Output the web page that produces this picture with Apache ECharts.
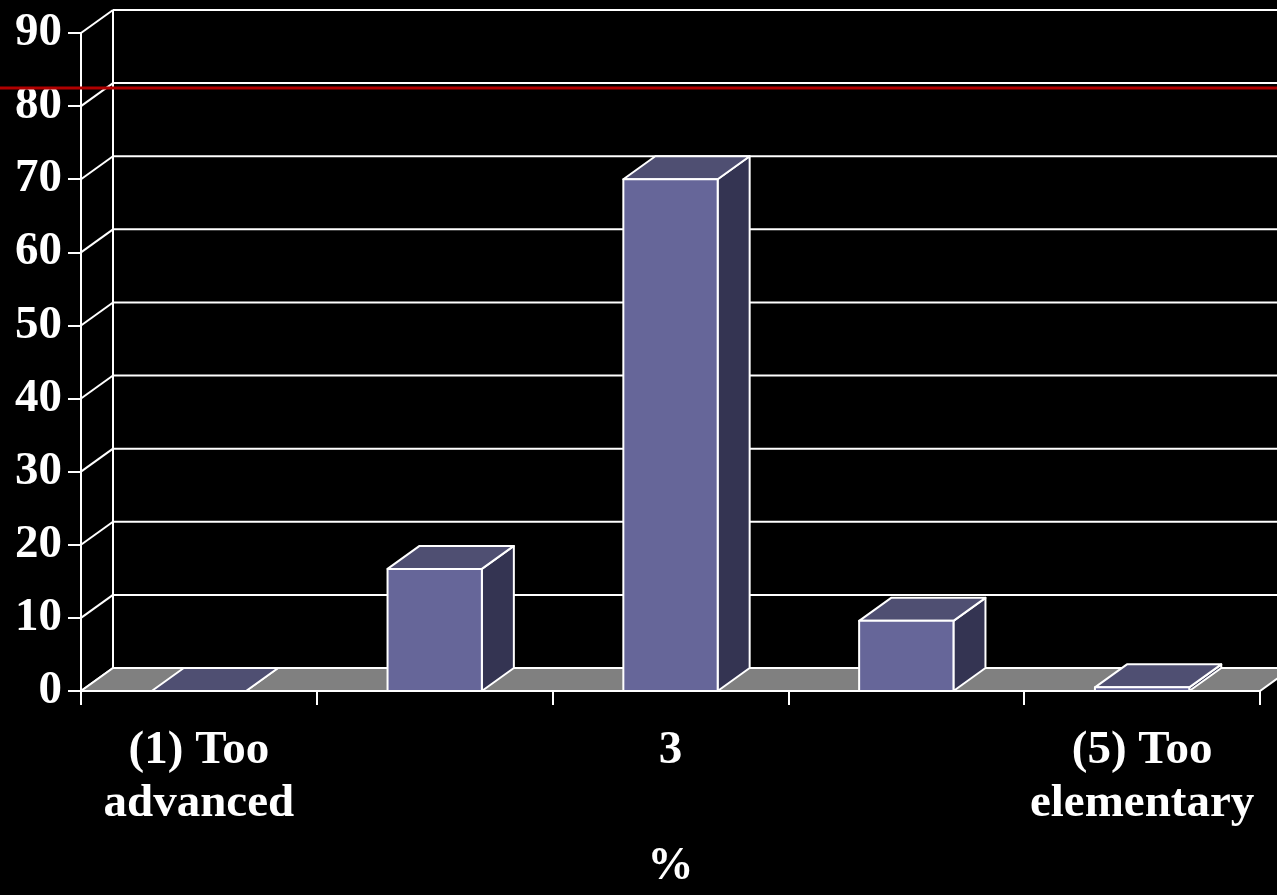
<!DOCTYPE html>
<html>
<head>
<meta charset="utf-8">
<script src="https://cdn.jsdelivr.net/npm/echarts@6/dist/echarts.min.js"></script>
<style>
  html, body { margin: 0; padding: 0; background: #000; }
  #chart { width: 1277px; height: 895px; }
</style>
</head>
<body>
<div id="chart"></div>
<script>
// data
const categories = ['(1) Too\nadvanced', '', '3', '', '(5) Too\nelementary'];
const percentages = [0, 16.7, 70, 9.6, 0.5];
const yTicks = [0, 10, 20, 30, 40, 50, 60, 70, 80, 90];

// 3D depth offset of the back wall (pixels)
const DX = 32;
const DY = -23;
const FONT = '"Liberation Serif", "Times New Roman", serif';

const chart = echarts.init(document.getElementById('chart'));

// back wall grid lines + side diagonals
const renderFrame = (params, api) => {
  const cs = params.coordSys;
  const y = api.coord([0, api.value(1)])[1];
  const left = cs.x;
  const right = cs.x + cs.width;
  const style = { stroke: '#fff', lineWidth: 2 };
  const children = [
    { type: 'line', shape: { x1: left, y1: y, x2: left + DX, y2: y + DY }, style },
    { type: 'line', shape: { x1: left + DX, y1: y + DY, x2: right + DX, y2: y + DY }, style }
  ];
  if (params.dataIndex === 0) {
    const top = api.coord([0, yTicks[yTicks.length - 1]])[1];
    children.push({ type: 'line', shape: { x1: left + DX, y1: y + DY, x2: left + DX, y2: top + DY }, style });
  }
  return { type: 'group', children };
};

// grey floor slab
const renderFloor = (params, api) => {
  const cs = params.coordSys;
  const y = api.coord([0, 0])[1];
  const left = cs.x;
  const right = cs.x + cs.width;
  return {
    type: 'polygon',
    shape: { points: [[left, y], [right, y], [right + DX, y + DY], [left + DX, y + DY]] },
    style: { fill: '#808080', stroke: '#fff', lineWidth: 2 }
  };
};

// 3D box for each bar
const renderBar = (params, api) => {
  const i = api.value(0);
  const top = api.coord([i, api.value(1)]);
  const base = api.coord([i, 0]);
  const w = api.size([1, 0])[0] * 0.4;
  const x0 = top[0] - w / 2;
  const x1 = top[0] + w / 2;
  const yT = top[1];
  const yB = base[1];
  const edge = { stroke: '#fff', lineWidth: 2, lineJoin: 'round' };
  return {
    type: 'group',
    children: [
      { type: 'polygon', shape: { points: [[x1, yB], [x1 + DX, yB + DY], [x1 + DX, yT + DY], [x1, yT]] },
        style: Object.assign({ fill: '#343452' }, edge) },
      { type: 'polygon', shape: { points: [[x0, yT], [x1, yT], [x1 + DX, yT + DY], [x0 + DX, yT + DY]] },
        style: Object.assign({ fill: '#4f4f72' }, edge) },
      { type: 'polygon', shape: { points: [[x0, yB], [x1, yB], [x1, yT], [x0, yT]] },
        style: Object.assign({ fill: '#666699' }, edge) }
    ]
  };
};

const option = {
  backgroundColor: '#000',
  animation: false,
  grid: { left: 81, right: 17, top: 33, bottom: 203 },
  xAxis: {
    type: 'category',
    data: categories,
    boundaryGap: true,
    name: '%',
    nameLocation: 'middle',
    nameGap: 153,
    nameTextStyle: { color: '#fff', fontFamily: FONT, fontWeight: 'bold', fontSize: 46 },
    axisLine: { lineStyle: { color: '#fff', width: 2 } },
    axisTick: { show: true, length: 14, lineStyle: { color: '#fff', width: 2 } },
    axisLabel: {
      color: '#fff', fontFamily: FONT, fontWeight: 'bold', fontSize: 47,
      lineHeight: 53, margin: 33, interval: 0
    },
    splitLine: { show: false }
  },
  yAxis: {
    type: 'value',
    min: 0,
    max: 90,
    interval: 10,
    axisLine: { show: true, lineStyle: { color: '#fff', width: 2 } },
    axisTick: { show: true, length: 13, lineStyle: { color: '#fff', width: 2 } },
    axisLabel: { color: '#fff', fontFamily: FONT, fontWeight: 'bold', fontSize: 47, margin: 19 },
    splitLine: { show: false }
  },
  graphic: [
    { type: 'line', z: 100, shape: { x1: 0, y1: 88, x2: 1277, y2: 88 },
      style: { stroke: '#b00000', lineWidth: 3 } }
  ],
  series: [
    {
      name: 'frame',
      type: 'custom',
      clip: false,
      z: 1,
      renderItem: renderFrame,
      data: yTicks.map((v) => [0, v])
    },
    {
      name: 'floor',
      type: 'custom',
      clip: false,
      z: 2,
      renderItem: renderFloor,
      data: [[0, 0]]
    },
    {
      name: '%',
      type: 'custom',
      clip: false,
      z: 3,
      renderItem: renderBar,
      data: percentages.map((v, i) => [i, v])
    }
  ]
};

chart.setOption(option);
</script>
</body>
</html>
